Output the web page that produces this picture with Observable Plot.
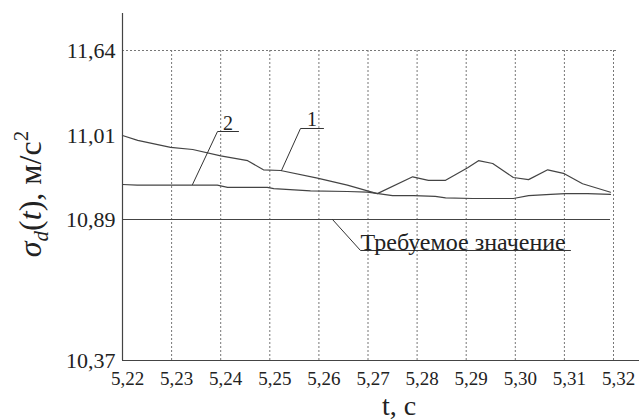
<!DOCTYPE html>
<html><head><meta charset="utf-8">
<script src="https://cdn.jsdelivr.net/npm/d3@7"></script>
<script src="https://cdn.jsdelivr.net/npm/@observablehq/plot@0.6"></script>
<style>
body{margin:0;background:#fff}
#chart{width:639px;height:419px}
#chart svg, #chart svg text, #chart svg tspan{font-family:"Liberation Serif", serif !important;}
</style>
</head><body><div id="chart"></div>
<script>
// Curve 1
const curve1T = [5.2200,5.2231,5.2298,5.2343,5.2400,5.2455,5.2487,5.2522,5.2597,5.2658,5.2699,5.2719,5.2791,5.2823,5.2858,5.2903,5.2925,5.2954,5.2996,5.3027,5.3066,5.3098,5.3137,5.3194];
const curve1V = [11.010,11.003,10.993,10.990,10.981,10.974,10.961,10.960,10.949,10.939,10.931,10.927,10.951,10.946,10.946,10.964,10.974,10.970,10.950,10.947,10.961,10.956,10.941,10.929];
// Curve 2
const curve2T = [5.2200,5.2230,5.2393,5.2414,5.2495,5.2508,5.2583,5.2658,5.2699,5.2750,5.2793,5.2837,5.2858,5.2913,5.2996,5.3027,5.3072,5.3102,5.3147,5.3194];
const curve2V = [10.940,10.939,10.939,10.936,10.936,10.934,10.931,10.930,10.929,10.924,10.924,10.923,10.921,10.920,10.920,10.924,10.926,10.927,10.927,10.926];
// Required value
const requiredValue = 10.89;
const requiredEnd = 5.3194;
// Ticks
const xTicks = [5.22,5.23,5.24,5.25,5.26,5.27,5.28,5.29,5.30,5.31,5.32];
const yTicks = [10.37,10.89,11.01,11.64];
// Annotation leader paths (data coordinates)
const lead1T = [5.25238,5.25625,5.26094];
const lead1V = [10.960,11.0619,11.0619];
const lead2T = [5.23426,5.23935,5.24363];
const lead2V = [10.940,11.0396,11.0396];
const leadReqT = [5.26277,5.26847,5.31124];
const leadReqV = [10.89,10.7757,10.7757];
const reqLabel = "Требуемое значение";
const xTitle = "t, c";
const yTitle = "σd(t), м/с2";

const toRows = (T, V) => T.map((t, i) => ({t, v: V[i]}));
const fmt = d => d.toFixed(2).replace(".", ",");
const serif = "'Liberation Serif', serif";

const plot = Plot.plot({
  width: 639, height: 419,
  marginLeft: 122, marginRight: 0, marginTop: 13, marginBottom: 59,
  style: {fontFamily: serif, background: "#fff", color: "#222"},
  x: {type: "linear", domain: [5.22, 5.32], range: [122, 613]},
  y: {type: "linear", domain: yTicks, range: [360, 219, 135, 50]},
  marks: [
    Plot.ruleX(xTicks.slice(1), {y1: 10.37, y2: 11.64, stroke: "#777", strokeDasharray: "2,2", strokeWidth: 1}),
    Plot.ruleY([11.64], {x1: 5.22, x2: 5.321, stroke: "#777", strokeDasharray: "2,2", strokeWidth: 1}),
    Plot.ruleY([requiredValue], {x1: 5.22, x2: requiredEnd, stroke: "#444", strokeWidth: 1.2}),
    Plot.line(toRows(curve2T, curve2V), {x: "t", y: "v", stroke: "#444", strokeWidth: 1.2}),
    Plot.line(toRows(curve1T, curve1V), {x: "t", y: "v", stroke: "#444", strokeWidth: 1.2}),
    Plot.line(toRows(lead1T, lead1V), {x: "t", y: "v", stroke: "#333", strokeWidth: 1}),
    Plot.line(toRows(lead2T, lead2V), {x: "t", y: "v", stroke: "#333", strokeWidth: 1}),
    Plot.line(toRows(leadReqT, leadReqV), {x: "t", y: "v", stroke: "#333", strokeWidth: 1}),
    Plot.text(["1"], {x: (lead1T[1] + lead1T[2]) / 2, y: lead1V[1], text: d => d, lineAnchor: "bottom", dy: -2, fontSize: 20, fontFamily: serif, fill: "#222"}),
    Plot.text(["2"], {x: (lead2T[1] + lead2T[2]) / 2, y: lead2V[1], text: d => d, lineAnchor: "bottom", dy: -2, fontSize: 20, fontFamily: serif, fill: "#222"}),
    Plot.text([reqLabel], {x: leadReqT[1], y: leadReqV[1], text: d => d, textAnchor: "start", lineAnchor: "bottom", dy: 0, fontSize: 24, fontFamily: serif, fill: "#222"}),
    Plot.ruleX([5.22], {stroke: "#444", strokeWidth: 1.2}),
    Plot.ruleY([10.37], {stroke: "#444", strokeWidth: 1.2}),
    Plot.axisX({ticks: xTicks, tickFormat: fmt, tickSize: 0, tickPadding: 11, fontSize: 19, fontFamily: serif, dx: 5, label: null}),
    Plot.axisY({ticks: yTicks, tickFormat: fmt, tickSize: 0, tickPadding: 7, fontSize: 22, fontFamily: serif, label: null}),
    Plot.text([xTitle], {frameAnchor: "bottom", text: d => d, dx: 18, dy: 54, lineAnchor: "bottom", fontSize: 28, fontFamily: serif, fill: "#222"}),
    Plot.text([yTitle], {frameAnchor: "left", textAnchor: "middle", text: d => d, dx: -92, dy: 7, rotate: -90, fontSize: 32, fontFamily: serif, fill: "#222"})
  ]
});
document.getElementById("chart").appendChild(plot);

// rich formatting for the y title (subscript / superscript)
const NS = "http://www.w3.org/2000/svg";
plot.querySelectorAll("text").forEach(el => {
  if (el.textContent === yTitle) {
    while (el.firstChild) el.removeChild(el.firstChild);
    const parts = [
      {s: "σ", italic: true},
      {s: "d", italic: true, size: 21, dy: 7},
      {s: "(", dy: -7},
      {s: "t", italic: true},
      {s: "), м/с"},
      {s: "2", size: 21, dy: -13}
    ];
    parts.forEach(p => {
      const ts = document.createElementNS(NS, "tspan");
      ts.textContent = p.s;
      if (p.italic) ts.setAttribute("font-style", "italic");
      if (p.size) ts.setAttribute("font-size", p.size);
      if (p.dy) ts.setAttribute("dy", p.dy);
      el.appendChild(ts);
    });
  }
});
</script>
</body></html>
